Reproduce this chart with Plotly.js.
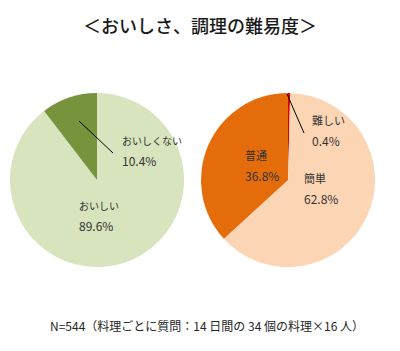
<!DOCTYPE html>
<html><head><meta charset="utf-8">
<script src="https://cdn.plot.ly/plotly-3.0.1.min.js"></script>
<style>html,body{margin:0;padding:0;background:#fff}#c{width:400px;height:351px}</style>
</head><body><div id="c"></div>
<script>
const tasteLabels = ["おいしい", "おいしくない"];
const tasteValues = [89.6, 10.4];
const tasteColors = ["#D7E4BD", "#77933C"];
const diffLabels = ["難しい", "簡単", "普通"];
const diffValues = [0.4, 62.8, 36.8];
const diffColors = ["#E00000", "#FCD5B5", "#E46C0A"];
const titleText = "＜おいしさ、調理の難易度＞";
const noteText = "N=544（料理ごとに質問：14 日間の 34 個の料理×16 人）";

const W = 400, H = 351;
const px = x => x / W, py = y => 1 - y / H;
const FONT = "Noto Sans CJK JP, Noto Sans, sans-serif";

const pieBase = {
  type: "pie", sort: false, direction: "clockwise", rotation: 0,
  textinfo: "none", hoverinfo: "label+percent", showlegend: false
};
const data = [
  Object.assign({}, pieBase, {labels: tasteLabels, values: tasteValues, marker: {colors: tasteColors, line: {width: 0}},
    domain: {x: [px(10), px(184)], y: [py(267), py(93)]}}),
  Object.assign({}, pieBase, {labels: diffLabels, values: diffValues, marker: {colors: diffColors, line: {width: 0}},
    domain: {x: [px(201), px(375)], y: [py(267), py(93)]}})
];

// label placements (pixel positions of each label block) and name font sizes
const tastePos = [[77, 205], [120, 140]];
const tasteSize = [10, 10];
const diffPos = [[310, 120], [302, 178], [243, 155]];
const diffSize = [11, 11, 11];
const ann = [];
function addLabel(name, val, p, s) {
  ann.push({xref: "paper", yref: "paper", x: px(p[0]), y: py(p[1]), xanchor: "left", yanchor: "middle",
    text: name, showarrow: false, font: {family: FONT, size: s, color: "#333333"}});
  ann.push({xref: "paper", yref: "paper", x: px(p[0]), y: py(p[1] + 20), xanchor: "left", yanchor: "middle",
    text: val.toFixed(1) + "%", showarrow: false, font: {family: FONT, size: 12, color: "#333333"}});
}
tasteLabels.forEach((l, i) => addLabel(l, tasteValues[i], tastePos[i], tasteSize[i]));
diffLabels.forEach((l, i) => addLabel(l, diffValues[i], diffPos[i], diffSize[i]));
ann.push({xref: "paper", yref: "paper", x: 0.5, y: py(25), xanchor: "center", yanchor: "middle",
  text: titleText, showarrow: false, font: {family: FONT, size: 18, color: "#1a1a1a", weight: 500}});
ann.push({xref: "paper", yref: "paper", x: px(48), y: py(325), xanchor: "left", yanchor: "middle",
  text: noteText, showarrow: false, font: {family: FONT, size: 12, color: "#262626"}});

const shapes = [
  {type: "line", xref: "paper", yref: "paper", x0: px(79), y0: py(121), x1: px(113), y1: py(153), line: {color: "#000", width: 1}},
  {type: "line", xref: "paper", yref: "paper", x0: px(287), y0: py(94), x1: px(304), y1: py(133), line: {color: "#000", width: 1}}
];

Plotly.newPlot("c", data, {
  width: W, height: H, margin: {l: 0, r: 0, t: 0, b: 0},
  paper_bgcolor: "#fff", annotations: ann, shapes: shapes
}, {displayModeBar: false, staticPlot: true});
</script></body></html>
